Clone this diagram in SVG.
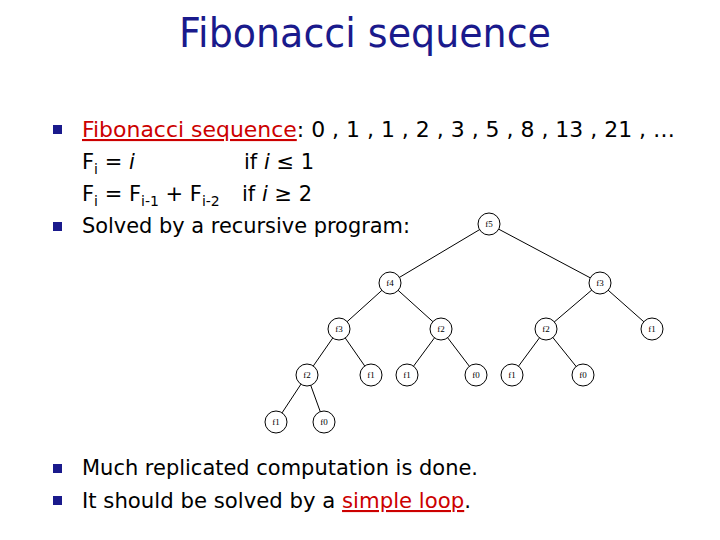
<svg xmlns="http://www.w3.org/2000/svg" width="720" height="540" viewBox="0 0 720 540">
<style>
.t{font-family:"DejaVu Sans",Verdana,sans-serif;font-size:21px;fill:#000}
.b{fill:#1a1a8c}
.n circle{fill:#fff;stroke:#000;stroke-width:1}
.n text{font-family:"Liberation Serif",serif;font-size:9px;text-anchor:middle;fill:#000}
#edges line{stroke:#000;stroke-width:1}
</style>
<rect width="720" height="540" fill="#fff"/>
<text x="365" y="47" text-anchor="middle" font-family="DejaVu Sans,sans-serif" font-size="40" fill="#1a1a8c" textLength="372" lengthAdjust="spacingAndGlyphs">Fibonacci sequence</text>
<rect class="b" x="53" y="125" width="9" height="9"/>
<rect class="b" x="53" y="222" width="9" height="9"/>
<rect class="b" x="53" y="464" width="9" height="9"/>
<rect class="b" x="53" y="496" width="9" height="9"/>
<text class="t" x="82" y="137" textLength="593" lengthAdjust="spacingAndGlyphs"><tspan fill="#cc0000" text-decoration="underline">Fibonacci sequence</tspan>: 0 , 1 , 1 , 2 , 3 , 5 , 8 , 13 , 21 , …</text>
<text class="t" x="82" y="169">F<tspan font-size="14" dy="5">i</tspan><tspan dy="-5"> = </tspan><tspan font-style="italic">i</tspan></text>
<text class="t" x="244" y="169">if  <tspan font-style="italic">i</tspan> ≤ 1</text>
<text class="t" x="82" y="201">F<tspan font-size="14" dy="5">i</tspan><tspan dy="-5"> = F</tspan><tspan font-size="14" dy="5">i-1</tspan><tspan dy="-5"> + F</tspan><tspan font-size="14" dy="5">i-2</tspan></text>
<text class="t" x="242" y="201">if  <tspan font-style="italic">i</tspan> ≥ 2</text>
<text class="t" x="82" y="233" textLength="328" lengthAdjust="spacingAndGlyphs">Solved by a recursive program:</text>
<text class="t" x="82" y="475" textLength="396" lengthAdjust="spacingAndGlyphs">Much replicated computation is done.</text>
<text class="t" x="82" y="508" textLength="389" lengthAdjust="spacingAndGlyphs">It should be solved by a <tspan fill="#cc0000" text-decoration="underline">simple loop</tspan>.</text>
<g id="edges">
<line x1="489" y1="224" x2="390" y2="283"/><line x1="489" y1="224" x2="600" y2="283"/>
<line x1="390" y1="283" x2="339" y2="329"/><line x1="390" y1="283" x2="441" y2="329"/>
<line x1="600" y1="283" x2="546" y2="329"/><line x1="600" y1="283" x2="652" y2="329"/>
<line x1="339" y1="329" x2="307" y2="375"/><line x1="339" y1="329" x2="371" y2="375"/>
<line x1="441" y1="329" x2="407" y2="375"/><line x1="441" y1="329" x2="476" y2="375"/>
<line x1="546" y1="329" x2="512" y2="375"/><line x1="546" y1="329" x2="583" y2="375"/>
<line x1="307" y1="375" x2="276" y2="422"/><line x1="307" y1="375" x2="324" y2="422"/>
</g>
<g id="n1" class="n"><circle cx="489" cy="224" r="11"/><text x="489" y="227">f5</text></g>
<g id="n2" class="n"><circle cx="390" cy="283" r="11"/><text x="390" y="286">f4</text></g>
<g id="n3" class="n"><circle cx="600" cy="283" r="11"/><text x="600" y="286">f3</text></g>
<g id="n4" class="n"><circle cx="339" cy="329" r="11"/><text x="339" y="332">f3</text></g>
<g id="n5" class="n"><circle cx="441" cy="329" r="11"/><text x="441" y="332">f2</text></g>
<g id="n6" class="n"><circle cx="546" cy="329" r="11"/><text x="546" y="332">f2</text></g>
<g id="n7" class="n"><circle cx="652" cy="329" r="11"/><text x="652" y="332">f1</text></g>
<g id="n8" class="n"><circle cx="307" cy="375" r="11"/><text x="307" y="378">f2</text></g>
<g id="n9" class="n"><circle cx="371" cy="375" r="11"/><text x="371" y="378">f1</text></g>
<g id="n10" class="n"><circle cx="407" cy="375" r="11"/><text x="407" y="378">f1</text></g>
<g id="n11" class="n"><circle cx="476" cy="375" r="11"/><text x="476" y="378">f0</text></g>
<g id="n12" class="n"><circle cx="512" cy="375" r="11"/><text x="512" y="378">f1</text></g>
<g id="n13" class="n"><circle cx="583" cy="375" r="11"/><text x="583" y="378">f0</text></g>
<g id="n14" class="n"><circle cx="276" cy="422" r="11"/><text x="276" y="425">f1</text></g>
<g id="n15" class="n"><circle cx="324" cy="422" r="11"/><text x="324" y="425">f0</text></g>
</svg>
